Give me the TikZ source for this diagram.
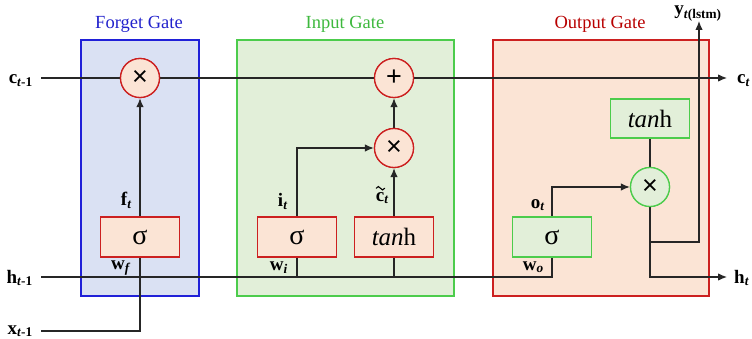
\documentclass[tikz,border=0pt]{standalone}
\usepackage{fontspec}
\setmainfont{Liberation Serif}
\newfontfamily\sansf{Liberation Sans}
\usetikzlibrary{arrows.meta}
\definecolor{fblue}{HTML}{DAE1F3}
\definecolor{fborder}{HTML}{2020D8}
\definecolor{ftitle}{HTML}{2222CC}
\definecolor{lgreen}{HTML}{E2EFD9}
\definecolor{cgreen}{HTML}{4CCC4C}
\definecolor{gtitle}{HTML}{3DB83D}
\definecolor{corange}{HTML}{FBE4D5}
\definecolor{cred}{HTML}{CC2020}
\definecolor{rtitle}{HTML}{B80000}
\begin{document}
\begin{tikzpicture}[x=1pt,y=-1pt,
  gatebox/.style={rectangle, line width=1.5pt, inner sep=0pt},
  op/.style={circle, draw=cred, fill=corange, line width=1.3pt, minimum size=39pt, inner sep=0pt, font=\sansf\fontsize{27}{27}\selectfont},
  opg/.style={op, draw=cgreen, fill=lgreen},
  fn/.style={rectangle, draw=cred, fill=corange, line width=1.3pt, minimum width=79pt, minimum height=40pt, inner sep=0pt, font=\fontsize{25}{25}\selectfont},
  fng/.style={fn, draw=cgreen, fill=lgreen},
  sig/.style={font=\fontsize{28}{28}\selectfont},
  conn/.style={line width=1.2pt, black!85},
  arr/.style={conn, -{Latex[length=9pt,width=7.5pt]}},
  lbl/.style={font=\bfseries\fontsize{19}{19}\selectfont, inner sep=0pt},
  wlbl/.style={font=\bfseries\fontsize{19}{19}\selectfont, inner sep=0pt},
  gtitle/.style={font=\fontsize{18.5}{18.5}\selectfont, inner sep=0pt},
  tildemark/.style={line width=1.1pt, line cap=round}
]
\useasboundingbox (0,0) rectangle (752,339);

% gate boxes
\node[gatebox, draw=fborder, fill=fblue, minimum width=118pt, minimum height=256pt] (fgate) at (140,168) {};
\node[gatebox, draw=cgreen, fill=lgreen, minimum width=217pt, minimum height=256pt] (igate) at (345.5,168) {};
\node[gatebox, draw=cred, fill=corange, minimum width=216pt, minimum height=256pt] (ogate) at (601,168) {};

\node[gtitle, text=ftitle] (ftit) at (139,24) {Forget Gate};
\node[gtitle, text=gtitle] (itit) at (345,24) {Input Gate};
\node[gtitle, text=rtitle] (otit) at (600,24) {Output Gate};

% coordinates
\coordinate (cin) at (41,78);
\coordinate (cout) at (727,78);
\coordinate (hin) at (41,277);
\coordinate (hout) at (727,277);
\coordinate (xin) at (41,331);
\coordinate (ybr) at (650,242);
\coordinate (ytop) at (699,21);

% operation nodes (positions)
\node[op] (fmul) at (140,78) {};
\node[op] (iadd) at (394,78) {};
\node[op] (imul) at (394,148) {};
\node[opg] (omul) at (650,187) {};
\node[fn] (fsig) at (140,237) {};
\node[fn] (isig) at (297,237) {};
\node[fn] (itanh) at (394,237) {};
\node[fng] (osig) at (552,237) {};
\node[fng, minimum height=39pt] (otanh) at (650,118.5) {};

% connectors
\draw[arr] (cin) -- (cout);
\draw[conn] (hin) -- (osig.south |- hin) -- (osig.south);
\draw[conn] (xin) -- (fsig.south |- xin) -- (fsig.south);
\draw[arr] (fsig.north) -- (fmul.south);
\draw[conn] (isig.south) -- (isig.south |- hin);
\draw[conn] (itanh.south) -- (itanh.south |- hin);
\draw[arr] (isig.north) |- (imul.west);
\draw[arr] (itanh.north) -- (imul.south);
\draw[arr] (imul.north) -- (iadd.south);
\draw[arr] (osig.north) |- (omul.west);
\draw[conn] (otanh.south) -- (omul.north);
\draw[arr] (omul.south) |- (hout);
\draw[arr] (ybr) -| (ytop);

% redraw nodes on top with text
\node[op] at (fmul) {\texttimes};
\node[op] at (iadd) {+};
\node[op] at (imul) {\texttimes};
\node[opg] at (omul) {\texttimes};
\node[fn, sig] at (fsig) {σ};
\node[fn, sig] at (isig) {σ};
\node[fn] at (itanh) {\textit{tan}h};
\node[fng, sig] at (osig) {σ};
\node[fng, minimum height=39pt] at (otanh) {\textit{tan}h};

% labels
\node[lbl, anchor=base east] (lc) at (33,84) {c\textsubscript{\textit{t}-1}};
\node[lbl, anchor=base east] (lh) at (33,283) {h\textsubscript{\textit{t}-1}};
\node[lbl, anchor=base east] (lx) at (33,334) {x\textsubscript{\textit{t}-1}};
\node[lbl, anchor=base west] (lct) at (737,84) {c\textsubscript{\textit{t}}};
\node[lbl, anchor=base west] (lht) at (734,283) {h\textsubscript{\textit{t}}};
\node[lbl, anchor=base] (ly) at (698,15) {y\textsubscript{\textit{t}(lstm)}};
\node[lbl, anchor=base east] (lf) at (132,206) {f\textsubscript{\textit{t}}};
\node[lbl, anchor=base east] (li) at (288,207) {i\textsubscript{\textit{t}}};
\node[lbl, anchor=base east] (lctil) at (389,201) {c\textsubscript{\textit{t}}};
\draw[tildemark] ([shift={(0.6,-3.6)}]lctil.north west) sin +(2.1,-1.7) cos +(2.1,1.7) sin +(2.1,1.7) cos +(2.1,-1.7);
\node[lbl, anchor=base east] (lo) at (545,208) {o\textsubscript{\textit{t}}};
\node[wlbl, anchor=base east] (lwf) at (131,269) {w\textsubscript{\textit{f}}};
\node[wlbl, anchor=base east] (lwi) at (288,270) {w\textsubscript{\textit{i}}};
\node[wlbl, anchor=base east] (lwo) at (544,270) {w\textsubscript{\textit{o}}};
\end{tikzpicture}
\end{document}
